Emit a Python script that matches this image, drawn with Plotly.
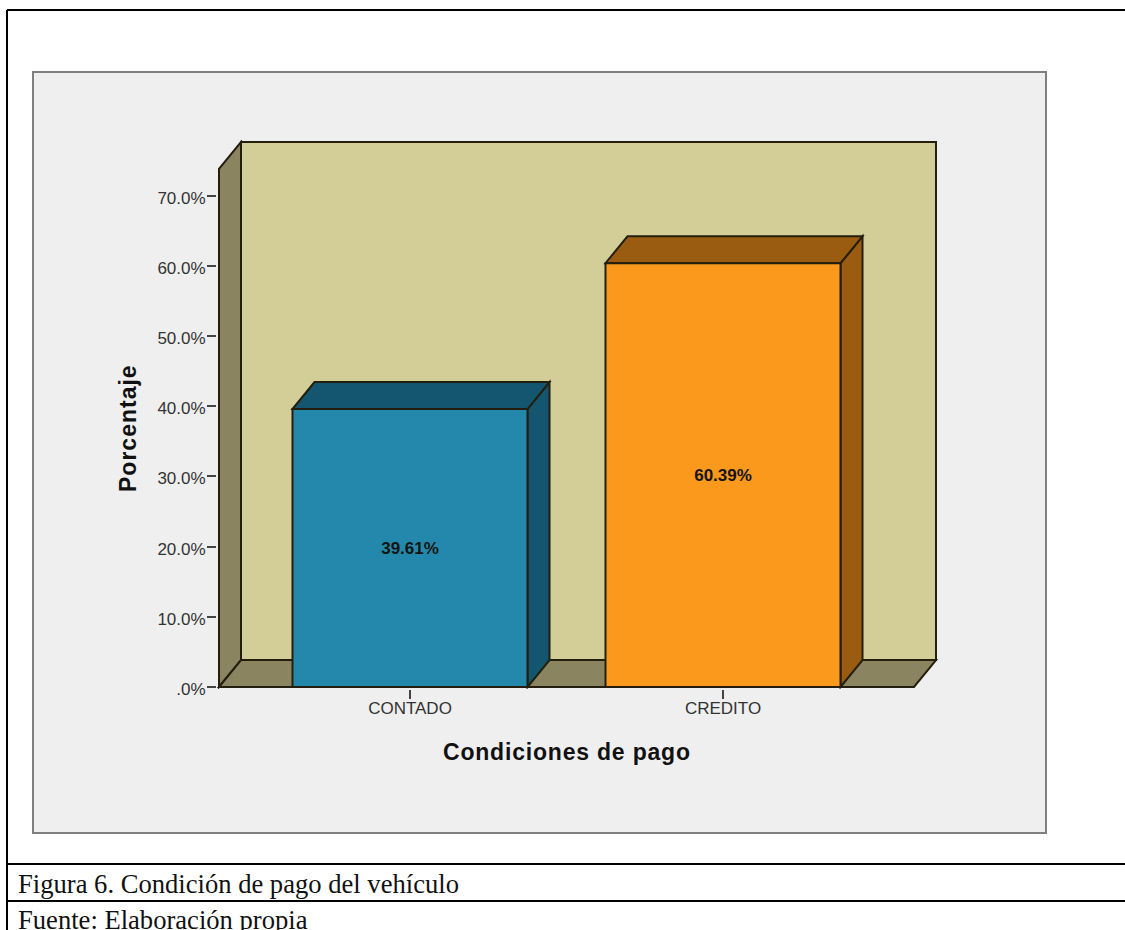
import plotly.graph_objects as go

categories = ["CONTADO", "CREDITO"]
percentages = [39.61, 60.39]
bar_labels = ["39.61%", "60.39%"]
y_ticks = [0, 10, 20, 30, 40, 50, 60, 70]
y_tick_labels = [".0%", "10.0%", "20.0%", "30.0%", "40.0%", "50.0%", "60.0%", "70.0%"]
front_colors = ["#2488AD", "#FA991C"]
side_colors = ["#14566F", "#9A5C11"]
top_colors = ["#14566F", "#9A5C11"]
caption_lines = ["Figura 6. Condición de pago del vehículo", "Fuente: Elaboración propia"]
x_title = "Condiciones de pago"
y_title = "Porcentaje"

W, H = 1125, 930
PX_PER_CAT = 313.0
PX_PER_PCT = 7.03
PAD = 2
LEFT, RIGHT, TOP, BOTTOM = 219 - PAD, 936 + PAD, 142 - PAD, 687 + PAD
DX = 22 / PX_PER_CAT
DY = 27 / PX_PER_PCT
BAR_W = 235 / PX_PER_CAT
X0 = (219 - 410) / PX_PER_CAT
X1 = (914 - 410) / PX_PER_CAT
YTOP = (687 - 168) / PX_PER_PCT
EDGE = "#241E0E"
WALL = "#D3CE97"
SIDE = "#8A8560"


def px(x):
    return (x - LEFT) / (RIGHT - LEFT)


def py(y):
    return (BOTTOM - y) / (BOTTOM - TOP)


def poly(points, fill):
    path = "M" + " L".join(f"{a:.5f},{b:.5f}" for a, b in points) + " Z"
    return dict(type="path", path=path, xref="x", yref="y", fillcolor=fill,
                line=dict(color=EDGE, width=2), layer="below")


def pline(x0, y0, x1, y1, color="#000000", width=2):
    return dict(type="line", xref="paper", yref="paper", x0=px(x0), x1=px(x1),
                y0=py(y0), y1=py(y1), line=dict(color=color, width=width), layer="above")


def spaced(text, spacing):
    return f'<span style="letter-spacing:{spacing}px"><b>{text}</b></span>'


shapes = [
    dict(type="rect", xref="paper", yref="paper", x0=px(33), x1=px(1046), y0=py(833), y1=py(72),
         fillcolor="#EFEFEF", line=dict(color="#7F7F7F", width=2), layer="below"),
    pline(7, 10, 7, 930), pline(7, 10, 1125, 10), pline(7, 864, 1125, 864), pline(7, 901, 1125, 901),
    poly([(X0 + DX, DY), (X1 + DX, DY), (X1 + DX, YTOP + DY), (X0 + DX, YTOP + DY)], WALL),
    poly([(X0, 0), (X0 + DX, DY), (X0 + DX, YTOP + DY), (X0, YTOP)], SIDE),
    poly([(X0, 0), (X1, 0), (X1 + DX, DY), (X0 + DX, DY)], SIDE),
]
for i, v in enumerate(percentages):
    a, b = i - BAR_W / 2, i + BAR_W / 2
    shapes.append(poly([(b, 0), (b + DX, DY), (b + DX, v + DY), (b, v)], side_colors[i]))
    shapes.append(poly([(a, v), (b, v), (b + DX, v + DY), (a + DX, v + DY)], top_colors[i]))

fig = go.Figure(go.Bar(
    x=[0, 1], y=percentages, width=BAR_W,
    marker=dict(color=front_colors, line=dict(color=EDGE, width=2)),
    text=[f"<b>{t}</b>" for t in bar_labels], textposition="inside",
    insidetextanchor="middle", textangle=0,
    textfont=dict(family="Liberation Sans", size=17, color="#14140F"),
    constraintext="none", hoverinfo="skip", cliponaxis=False,
))

annotations = [
    dict(text=spaced(x_title, 0.8), xref="paper", yref="paper", x=px(567), y=py(752), showarrow=False,
         xanchor="center", yanchor="middle", font=dict(family="Liberation Sans", size=23, color="#111111")),
    dict(text=spaced(y_title, 1), xref="paper", yref="paper", x=px(128), y=py(428), showarrow=False,
         textangle=-90, xanchor="center", yanchor="middle",
         font=dict(family="Liberation Sans", size=23, color="#111111")),
    dict(text=caption_lines[0], xref="paper", yref="paper", x=px(16), y=py(884), showarrow=False,
         xanchor="left", yanchor="middle", font=dict(family="Liberation Serif", size=26.6, color="#111111")),
    dict(text=caption_lines[1], xref="paper", yref="paper", x=px(16), y=py(920), showarrow=False,
         xanchor="left", yanchor="middle", font=dict(family="Liberation Serif", size=26.6, color="#111111")),
]

fig.update_layout(
    width=W, height=H, showlegend=False,
    margin=dict(l=LEFT, r=W - RIGHT, t=TOP, b=H - BOTTOM),
    paper_bgcolor="#FFFFFF", plot_bgcolor="rgba(0,0,0,0)",
    shapes=shapes, annotations=annotations,
    xaxis=dict(range=[X0 - PAD / PX_PER_CAT, X1 + DX + PAD / PX_PER_CAT], tickmode="array",
               tickvals=[0, 1], ticktext=categories, ticks="outside", ticklen=9, tickwidth=2,
               tickcolor="#444444", showgrid=False, zeroline=False, showline=False,
               ticklabelstandoff=-5,
               tickfont=dict(family="Liberation Sans", size=17, color="#333333")),
    yaxis=dict(range=[-PAD / PX_PER_PCT, YTOP + DY + PAD / PX_PER_PCT], tickmode="array",
               tickvals=y_ticks, ticktext=y_tick_labels, ticks="outside", ticklen=9, tickwidth=2,
               tickcolor="#444444", showgrid=False, zeroline=False, showline=False,
               ticklabelstandoff=-2, ticklabelshift=2,
               tickfont=dict(family="Liberation Sans", size=17, color="#333333")),
)

fig.write_html("out.html", config=dict(displayModeBar=False),
               post_script="document.body.style.margin='0';")
